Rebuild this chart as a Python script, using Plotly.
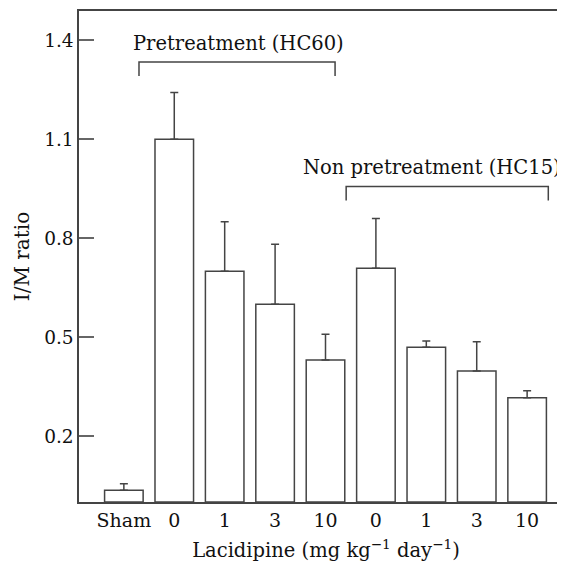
import plotly.graph_objects as go

categories = ["Sham", "0", "1", "3", "10", "0 ", "1 ", "3 ", "10 "]
tick_labels = ["Sham", "0", "1", "3", "10", "0", "1", "3", "10"]
means = [0.036, 1.10, 0.70, 0.60, 0.431, 0.709, 0.469, 0.397, 0.316]
errors = [0.019, 0.142, 0.150, 0.182, 0.078, 0.151, 0.019, 0.089, 0.021]

groups = ["Pretreatment (HC60)", "Non pretreatment (HC15)"]
group_x0 = [0.30, 4.41]
group_x1 = [4.19, 8.42]
group_top = [1.334, 0.957]
group_drop = [0.042, 0.043]
label_x = [2.27, 8.72]
label_anchor = ["center", "right"]

FONT = "DejaVu Serif"
INK = "#111111"
LINE = "#444444"

x = list(range(len(categories)))

fig = go.Figure()
fig.add_trace(go.Bar(
    x=x, y=means, width=0.765,
    marker=dict(color="white", line=dict(color=LINE, width=1.5)),
    error_y=dict(type="data", symmetric=False, array=errors,
                 arrayminus=[0] * len(errors), color=LINE,
                 thickness=1.5, width=4),
    showlegend=False,
))

for name, a, b, top, d, lx, anc in zip(groups, group_x0, group_x1, group_top,
                                       group_drop, label_x, label_anchor):
    fig.add_shape(type="path",
                  path=f"M {a} {top - d} L {a} {top} L {b} {top} L {b} {top - d}",
                  xref="x", yref="y", line=dict(color=LINE, width=1.5))
    fig.add_annotation(x=lx, y=top, xref="x", yref="y", xanchor=anc,
                       text=name, showarrow=False, yanchor="bottom", yshift=5,
                       font=dict(family=FONT, size=19.5, color=INK))

fig.update_layout(
    width=565, height=565,
    margin=dict(l=71, r=0, t=3, b=71),
    plot_bgcolor="white", paper_bgcolor="white",
    font=dict(family=FONT, size=19, color=INK),
    xaxis=dict(range=[-0.89, 8.91], tickvals=x, ticktext=tick_labels,
               showline=True, linecolor=LINE, linewidth=1.5, mirror=True,
               ticks="", showgrid=False, zeroline=False,
               tickfont=dict(size=19),
               title=dict(text="Lacidipine (mg kg<sup>\u22121</sup> day<sup>\u22121</sup>)",
                          standoff=14, font=dict(size=19.5))),
    yaxis=dict(range=[0, 1.489], tickvals=[0.2, 0.5, 0.8, 1.1, 1.4],
               ticktext=["0.2", "0.5", "0.8", "1.1", "1.4"],
               ticks="inside", ticklen=15, tickcolor="#666666", tickwidth=1.5,
               showline=True, linecolor=LINE, linewidth=1.5,
               showgrid=False, zeroline=False, tickfont=dict(size=18.5),
               title=dict(text="I/M ratio", standoff=9, font=dict(size=20))),
)

fig.write_html("out.html")
